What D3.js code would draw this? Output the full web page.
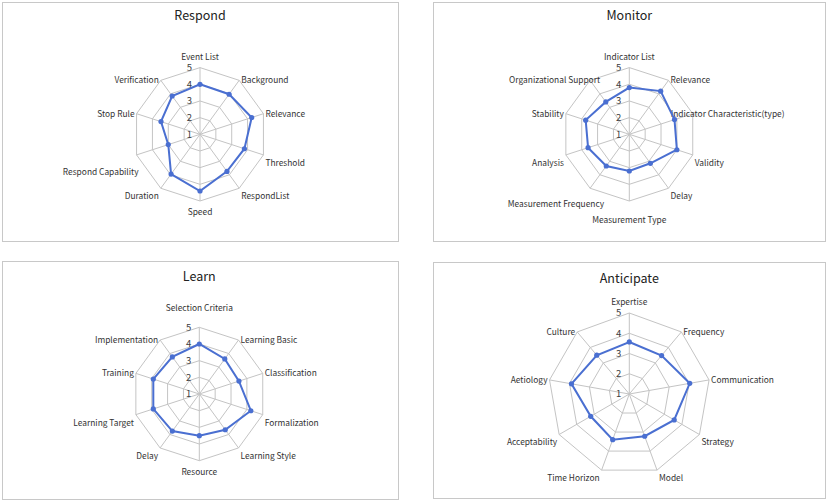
<!DOCTYPE html>
<html>
<head>
<meta charset="utf-8">
<script src="https://cdn.jsdelivr.net/npm/d3@7"></script>
<style>
  body { margin: 0; background: #fff; }
  svg { display: block; font-family: "Noto Sans CJK KR", "Noto Sans", sans-serif; }
</style>
</head>
<body>
<div id="radar"></div>
<script>
const FRAME_WIDTH = 827;
const FRAME_HEIGHT = 503;

// data
const respondAxes = ["Event List", "Background", "Relevance", "Threshold", "RespondList",
  "Speed", "Duration", "Respond Capability", "Stop Rule", "Verification"];
const respondValues = [4.0, 3.97, 4.26, 3.8, 3.75, 4.4, 3.95, 3.0, 3.46, 3.84];

const monitorAxes = ["Indicator List", "Relevance", "Indicator Characteristic(type)", "Validity", "Delay",
  "Measurement Type", "Measurement Frequency", "Analysis", "Stability", "Organizational Support"];
const monitorValues = [3.8, 4.2, 3.85, 4.0, 3.15, 3.2, 3.35, 3.6, 3.75, 3.4];

const learnAxes = ["Selection Criteria", "Learning Basic", "Classification", "Formalization", "Learning Style",
  "Resource", "Delay", "Learning Target", "Training", "Implementation"];
const learnValues = [4.0, 3.6, 3.5, 4.25, 3.65, 3.5, 3.75, 3.9, 3.9, 3.75];

const anticipateAxes = ["Expertise", "Frequency", "Communication", "Strategy", "Model",
  "Time Horizon", "Acceptability", "Aetiology", "Culture"];
const anticipateValues = [3.57, 3.48, 4.03, 3.56, 3.22, 3.4, 3.2, 3.9, 3.5];

const RING_TICKS = [1, 2, 3, 4, 5];

// layout of the four panels (nudge = label shifts like the spreadsheet placed them)
const PANELS = [
  {title: "Respond", axes: respondAxes, values: respondValues,
   box: [2.5, 2.5, 396, 239], cx: 200, cy: 134.3, r: 66.7, ty: 20,
   nudge: {7: [4, 9]}},
  {title: "Monitor", axes: monitorAxes, values: monitorValues,
   box: [433.5, 2.5, 392, 239], cx: 629.3, cy: 134.3, r: 66.7, ty: 20,
   nudge: {2: [-24, 0], 5: [0, 8], 6: [16, 8], 9: [12, 0]}},
  {title: "Learn", axes: learnAxes, values: learnValues,
   box: [2.5, 261.5, 396, 238], cx: 199.3, cy: 394, r: 66.7, ty: 281,
   nudge: {0: [0, -8]}},
  {title: "Anticipate", axes: anticipateAxes, values: anticipateValues,
   box: [433.5, 262.5, 392, 236], cx: 629.3, cy: 394, r: 81, ty: 283,
   nudge: {}}
];

const SVG = d3.select("#radar")
  .append("svg")
    .attr("width", FRAME_WIDTH)
    .attr("height", FRAME_HEIGHT);

function plot_radar(p) {
  const n = p.axes.length;
  const ANGLE = (i) => i * 2 * Math.PI / n;
  const R_SCALE = d3.scaleLinear().domain([1, 5]).range([0, p.r]);
  const shift = (i) => p.nudge[i] || [0, 0];

  SVG.append("rect")
    .attr("x", p.box[0]).attr("y", p.box[1])
    .attr("width", p.box[2]).attr("height", p.box[3])
    .attr("fill", "#fff")
    .attr("stroke", "#c8c8c8")
    .attr("stroke-width", 1);

  SVG.append("text")
    .attr("x", p.cx).attr("y", p.ty)
    .attr("text-anchor", "middle")
    .attr("font-size", "12.5px")
    .attr("fill", "#222")
    .text(p.title);

  const G = SVG.append("g").attr("transform", "translate(" + p.cx + "," + p.cy + ")");

  // rings
  const ring = d3.lineRadial()
    .angle((d, i) => ANGLE(i))
    .radius((d) => R_SCALE(d))
    .curve(d3.curveLinearClosed);

  G.selectAll(".ring")
    .data(RING_TICKS.slice(1))
    .enter()
    .append("path")
      .attr("d", (t) => ring(p.axes.map(() => t)))
      .attr("fill", "none")
      .attr("stroke", "#c4c4c4")
      .attr("stroke-width", 1);

  // spokes
  G.selectAll(".spoke")
    .data(p.axes)
    .enter()
    .append("line")
      .attr("x1", 0).attr("y1", 0)
      .attr("x2", (d, i) => R_SCALE(5) * Math.sin(ANGLE(i)))
      .attr("y2", (d, i) => -R_SCALE(5) * Math.cos(ANGLE(i)))
      .attr("stroke", "#c4c4c4")
      .attr("stroke-width", 1);

  // tick labels
  G.selectAll(".tick")
    .data(RING_TICKS)
    .enter()
    .append("text")
      .attr("x", -8)
      .attr("y", (t) => -R_SCALE(t))
      .attr("dy", "0.35em")
      .attr("text-anchor", "end")
      .attr("font-size", "9.5px")
      .attr("fill", "#404040")
      .text((t) => t);

  // axis labels
  G.selectAll(".axis-label")
    .data(p.axes)
    .enter()
    .append("text")
      .attr("x", (d, i) => {
        const s = Math.sin(ANGLE(i));
        const x = R_SCALE(5) * s + shift(i)[0];
        if (Math.abs(s) < 0.05) return x;
        return s > 0 ? x + 2 : x - 2;
      })
      .attr("y", (d, i) => {
        const c = Math.cos(ANGLE(i));
        const s = Math.sin(ANGLE(i));
        const y = -R_SCALE(5) * c + shift(i)[1];
        if (Math.abs(s) < 0.05) return c > 0 ? y - 11 : y + 11;
        return c >= 0 ? y : y + 8;
      })
      .attr("dy", "0.35em")
      .attr("text-anchor", (d, i) => {
        const s = Math.sin(ANGLE(i));
        if (Math.abs(s) < 0.05) return "middle";
        return s > 0 ? "start" : "end";
      })
      .attr("font-size", "8.4px")
      .attr("fill", "#333")
      .text((d) => d);

  // series
  G.append("path")
    .attr("d", ring(p.values))
    .attr("fill", "none")
    .attr("stroke", "#4a6fd1")
    .attr("stroke-width", 2);

  G.selectAll(".point")
    .data(p.values)
    .enter()
    .append("circle")
      .attr("cx", (d, i) => R_SCALE(d) * Math.sin(ANGLE(i)))
      .attr("cy", (d, i) => -R_SCALE(d) * Math.cos(ANGLE(i)))
      .attr("r", 2.6)
      .attr("fill", "#4a6fd1");
}

PANELS.forEach(plot_radar);
</script>
</body>
</html>
